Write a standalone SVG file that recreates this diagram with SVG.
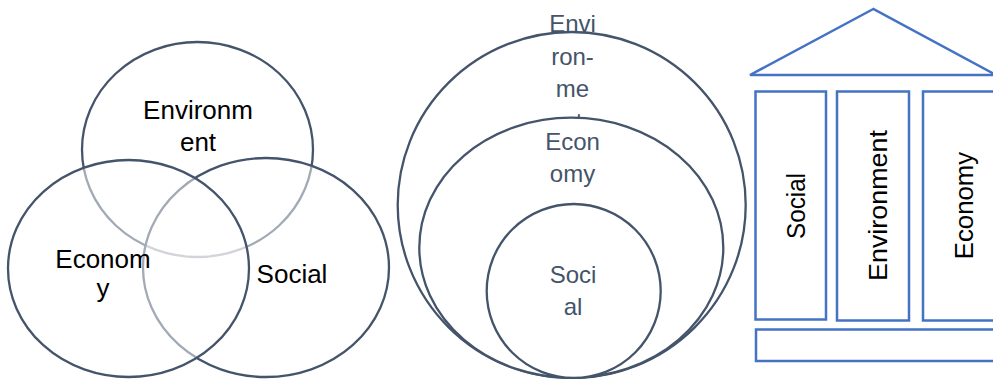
<svg xmlns="http://www.w3.org/2000/svg" width="993" height="379" viewBox="0 0 993 379">
  <style>
    .venn { fill: #ffffff; fill-opacity: 0.5; stroke: #44546a; stroke-width: 2.3; }
    .ring { fill: #ffffff; stroke: #44546a; stroke-width: 2.3; }
    .part { fill: #ffffff; stroke: #4472c4; stroke-width: 2.5; }
    .lbl { font-family: "Liberation Sans", Arial, sans-serif; font-size: 26px; fill: #000000; text-anchor: middle; }
    .lbl2 { font-family: "Liberation Sans", Arial, sans-serif; font-size: 24px; fill: #44546a; text-anchor: middle; }
  </style>
  <defs>
    <!-- the last line of the outer label runs under the economy ring -->
    <clipPath id="above-economy">
      <rect x="520" y="0" width="110" height="117"/>
    </clipPath>
  </defs>

  <rect width="993" height="379" fill="#ffffff"/>

  <!-- Overlapping circles: three pillars as a Venn diagram -->
  <g id="venn">
    <ellipse id="venn-environment" class="venn" cx="197.5" cy="149.5" rx="115.5" ry="107.5"/>
    <ellipse id="venn-social" class="venn" cx="266" cy="267.5" rx="123" ry="109.5"/>
    <ellipse id="venn-economy" class="venn" cx="128.5" cy="268.5" rx="120.5" ry="108.5"/>
    <text class="lbl" x="198" y="119">Environm</text>
    <text class="lbl" x="198" y="151">ent</text>
    <text class="lbl" x="103" y="268">Econom</text>
    <text class="lbl" x="103" y="297">y</text>
    <text class="lbl" x="292" y="283">Social</text>
  </g>

  <!-- Nested circles: social inside economy inside environment -->
  <g id="nested">
    <g id="nested-environment">
      <ellipse class="ring" cx="571.7" cy="205" rx="174" ry="173"/>
      <text class="lbl2" x="572.5" y="31.5">Envi</text>
      <text class="lbl2" x="572.5" y="64.5">ron-</text>
      <text class="lbl2" x="572.5" y="97">me</text>
      <text class="lbl2" x="572.5" y="130" clip-path="url(#above-economy)">nt</text>
    </g>
    <g id="nested-economy">
      <ellipse class="ring" cx="571.3" cy="247.7" rx="152" ry="130"/>
      <text class="lbl2" x="572.5" y="150">Econ</text>
      <text class="lbl2" x="572.5" y="182">omy</text>
    </g>
    <g id="nested-social">
      <circle class="ring" cx="573.7" cy="291" r="87"/>
      <text class="lbl2" x="573" y="282.5">Soci</text>
      <text class="lbl2" x="573" y="315">al</text>
    </g>
  </g>

  <!-- Temple: roof, three pillars and a base -->
  <g id="temple">
    <polygon id="roof" class="part" points="873.3,9 750,75 996,75"/>
    <g id="pillar-social">
      <rect class="part" x="755.5" y="91.5" width="70.5" height="228"/>
      <text class="lbl" transform="translate(805,206) rotate(-90)" textLength="66" lengthAdjust="spacingAndGlyphs">Social</text>
    </g>
    <g id="pillar-environment">
      <rect class="part" x="837" y="91.5" width="72" height="229"/>
      <text class="lbl" transform="translate(886.5,205.5) rotate(-90)" textLength="151" lengthAdjust="spacingAndGlyphs">Environment</text>
    </g>
    <g id="pillar-economy">
      <rect class="part" x="923" y="91.5" width="80" height="229"/>
      <text class="lbl" transform="translate(973,205.5) rotate(-90)" textLength="107.5" lengthAdjust="spacingAndGlyphs">Economy</text>
    </g>
    <rect id="base" class="part" x="756" y="329.5" width="250" height="31.5"/>
  </g>
</svg>
